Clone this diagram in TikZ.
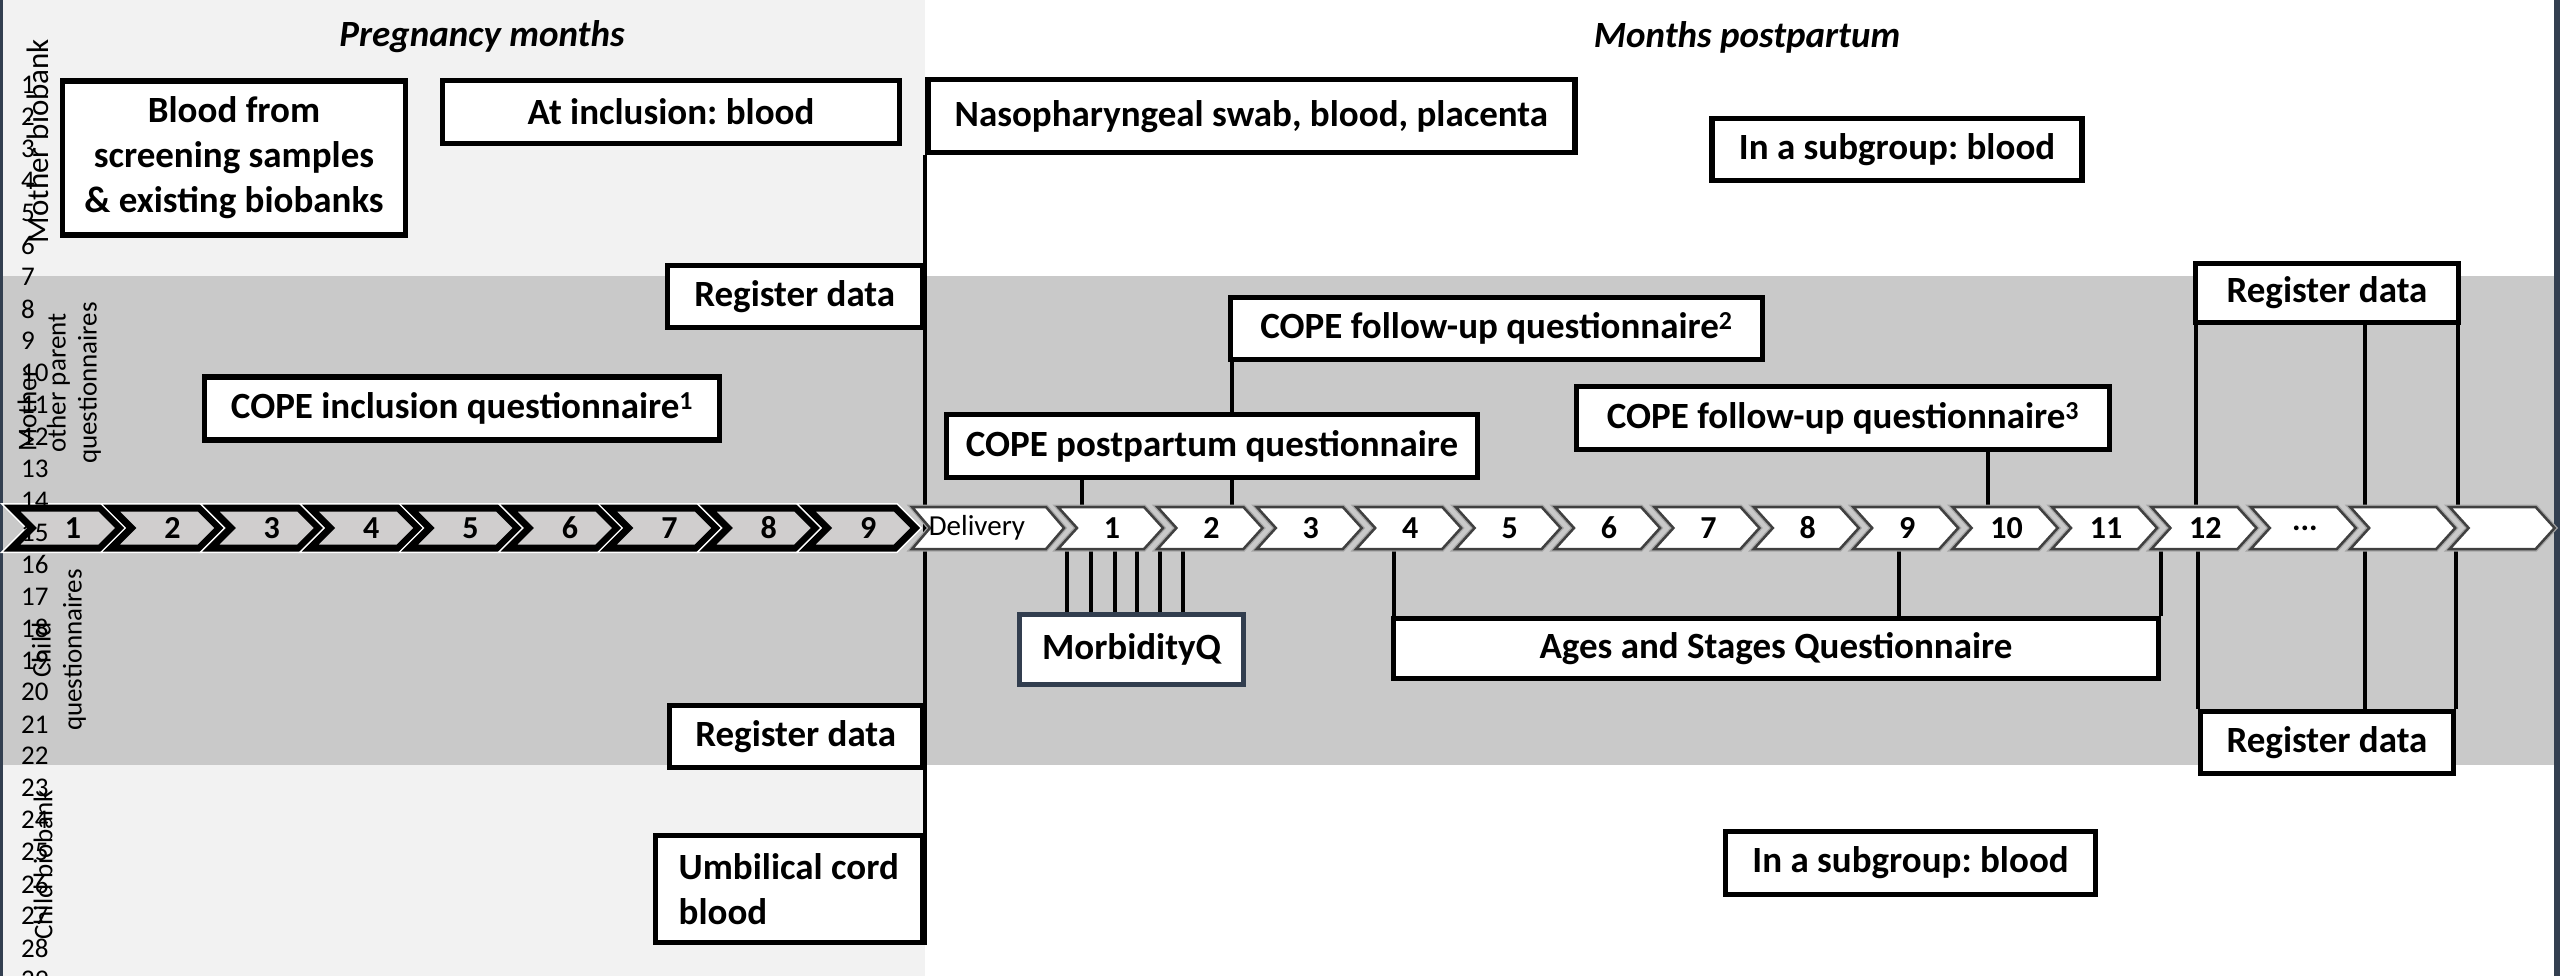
\documentclass[tikz,border=0pt]{standalone}
\usepackage{fontspec}
\setmainfont{Carlito}
\definecolor{lgray}{HTML}{F2F2F2}
\definecolor{band}{HTML}{C9C9C9}
\definecolor{frame}{HTML}{333F50}
\definecolor{pfill}{HTML}{D0CECE}
\definecolor{ppline}{HTML}{404040}
\definecolor{pphalo}{HTML}{A5A5A5}
\definecolor{morbc}{HTML}{323E4F}
\newcommand\mydots{...}
\begin{document}
\frenchspacing
\begin{tikzpicture}[x=1pt,y=-1pt,
  box/.style={draw=black, line width=5.5pt, fill=white, font=\bfseries\fontsize{37}{45}\selectfont, align=center, inner sep=0pt},
  conn/.style={line width=4.5pt, black},
  thin/.style={line width=4pt, black},
  lab/.style={font=\fontsize{27}{31}\selectfont, inner sep=0pt},
  digit/.style={font=\fontsize{27}{31}\selectfont, inner sep=0pt, anchor=west},
  mlab/.style={font=\bfseries\fontsize{32}{36}\selectfont, inner sep=0pt},
  head/.style={font=\bfseries\itshape\fontsize{37}{42}\selectfont, inner sep=0pt}]
\useasboundingbox (0,0) rectangle (2560,976);
% backgrounds
\fill[white] (0,0) rectangle (2560,976);
\fill[lgray] (0,0) rectangle (925,976);
\fill[band] (0,276) rectangle (2555,765);
\fill[frame] (0,0) rectangle (3,976);
\fill[frame] (2554,0) rectangle (2560,976);
% headers
\node[head] (hp) at (482,37) {Pregnancy months};
\node[head] (hm) at (1747,37) {Months postpartum};
% boxes
\node[box, minimum width=343pt, minimum height=154pt] (blood) at (234,158) {Blood from\\screening samples\\\& existing biobanks};
\node[box, minimum width=457pt, minimum height=63pt] (incl) at (671,112) {At inclusion: blood};
\node[box, minimum width=647pt, minimum height=73pt, anchor=south west] (naso) at (925,155.5) {Nasopharyngeal swab, blood, placenta};
\node[box, minimum width=515pt, minimum height=63pt] (copei) at (462,408.5) {COPE inclusion questionnaire\textsuperscript{1}};
\node[box, minimum width=532pt, minimum height=62pt] (fu2) at (1496.5,328.5) {COPE follow-up questionnaire\textsuperscript{2}};
\node[box, minimum width=533pt, minimum height=63pt] (fu3) at (1843,418) {COPE follow-up questionnaire\textsuperscript{3}};
\node[box, minimum width=370pt, minimum height=62pt] (sub1) at (1897,149.5) {In a subgroup: blood};
\node[box, minimum width=370pt, minimum height=63pt] (sub2) at (1910.5,863) {In a subgroup: blood};
% connectors (behind boxes drawn later)
\draw[conn] (naso.south west) -- (925,945);
\draw[conn] (1232,0 |- fu2.south) -- (1232,507);
\node[box, minimum width=531pt, minimum height=63pt] (postq) at (1212,446) {COPE postpartum questionnaire};
\draw[conn] (1082,0 |- postq.south) -- (1082,507);
\draw[conn] (1988,0 |- fu3.south) -- (1988,507);
% register boxes and others
\node[box, minimum width=255pt, minimum height=62pt, anchor=east] (regm) at (925,296.5) {Register data};
\node[box, minimum width=253pt, minimum height=62pt, anchor=east] (regc) at (925,736.5) {Register data};
\node[box, minimum width=267pt, minimum height=107pt, anchor=east, align=left] (umb) at (925,889) {Umbilical cord\\blood};
\node[box, minimum width=263pt, minimum height=59pt] (regtr) at (2327,293) {Register data};
\node[box, minimum width=253pt, minimum height=62pt] (regbr) at (2327,742.5) {Register data};
\node[box, minimum width=765pt, minimum height=60pt] (asq) at (1776,648.5) {Ages and Stages Questionnaire};
\node[box, draw=morbc, line width=5pt, minimum width=224pt, minimum height=70pt] (morb) at (1131.5,649.5) {MorbidityQ};
\foreach \x in {2196,2365,2458} \draw[conn] (\x,0 |- regtr.south) -- (\x,507);
\foreach \x in {2198,2365,2456} \draw[conn] (\x,549) -- (\x,0 |- regbr.north);
\foreach \x in {1394,1899,2161} \draw[conn] (\x,549) -- (\x,0 |- asq.north);
\foreach \x in {1067,1091,1115,1137,1160,1183} \draw[thin] (\x,549) -- (\x,0 |- morb.north);
% pregnancy chevrons
\foreach \i in {1,...,9} {
  \pgfmathsetmacro{\L}{12+(\i-1)*99.4}
  \draw[line width=10pt, white] (\L,508) -- ++(88,0) -- ++(20,20) -- ++(-20,20) -- ++(-88,0) -- ++(20,-20) -- cycle;
  \draw[line width=7pt, black, fill=pfill] (\L,508) -- ++(88,0) -- ++(20,20) -- ++(-20,20) -- ++(-88,0) -- ++(20,-20) -- cycle;
  \node[mlab] (p\i) at (\L+61,528) {\i};
}
% delivery chevron
\draw[line width=5pt, pphalo] (912,507) -- (1046,507) -- (1064,528) -- (1046,549) -- (912,549) -- (930,528) -- cycle;
\draw[line width=2.5pt, ppline, fill=white] (912,507) -- (1046,507) -- (1064,528) -- (1046,549) -- (912,549) -- (930,528) -- cycle;
\node[font=\fontsize{29}{32}\selectfont, inner sep=0pt] (del) at (977,528) {Delivery};
% postpartum chevrons
\foreach \k/\t in {1/1,2/2,3/3,4/4,5/5,6/6,7/7,8/8,9/9,10/10,11/11,12/12,13/\mydots,14/{},15/{}} {
  \pgfmathsetmacro{\L}{1058+(\k-1)*99.4}
  \draw[line width=5pt, pphalo] (\L,507) -- ++(86,0) -- ++(19,21) -- ++(-19,21) -- ++(-86,0) -- ++(19,-21) -- cycle;
  \draw[line width=2.5pt, ppline, fill=white] (\L,507) -- ++(86,0) -- ++(19,21) -- ++(-19,21) -- ++(-86,0) -- ++(19,-21) -- cycle;
  \node[mlab] (m\k) at (\L+54,528) {\t};
}
% row numbers
\foreach \n in {1,...,29} \node[digit] (r\n) at (21,{245+(\n-6)*31.95}) {\n};
% side labels
\node[lab, rotate=90, font=\fontsize{31}{35}\selectfont] (lmb) at (38,141) {Mother biobank};
\node[lab, rotate=90] (lmq1) at (27,410) {Mother};
\node[lab, rotate=90, align=center] (lmq2) at (74,383) {other parent\\questionnaires};
\node[lab, rotate=90, align=center] (lcq) at (59,650) {Child\\questionnaires};
\node[lab, rotate=90] (lcb) at (43,865) {Child biobank};
\end{tikzpicture}
\end{document}
